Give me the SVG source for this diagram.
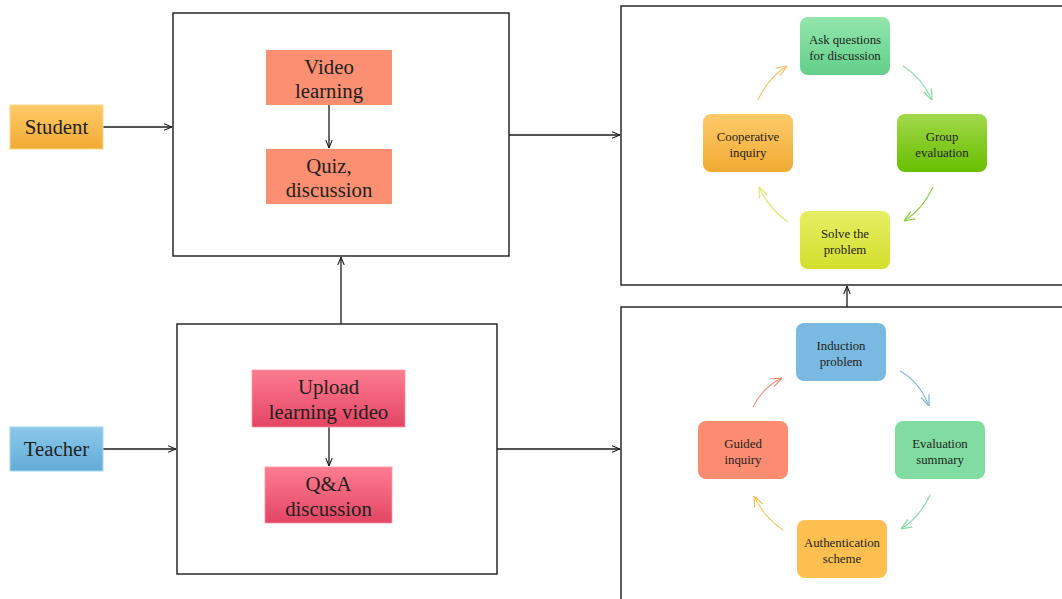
<svg xmlns="http://www.w3.org/2000/svg" width="1062" height="599" viewBox="0 0 1062 599">
<defs>
<style>
.frame{fill:#fff;stroke:#1a1a1a;stroke-width:1.4}
.big{font-family:"Liberation Serif",serif;font-size:20.8px;fill:#231f20;text-anchor:middle}
.sm{font-family:"Liberation Serif",serif;font-size:12.8px;fill:#231f20;text-anchor:middle}
.conn{stroke:#1a1a1a;stroke-width:1.3;fill:none}
.cyc{stroke-width:1.1;fill:none}
</style>
<linearGradient id="gOr" x1="0" y1="0" x2="0" y2="1"><stop offset="0" stop-color="#ffca6a"/><stop offset="1" stop-color="#f0aa33"/></linearGradient>
<linearGradient id="gBl" x1="0" y1="0" x2="0" y2="1"><stop offset="0" stop-color="#8cc8ea"/><stop offset="1" stop-color="#62acd9"/></linearGradient>
<linearGradient id="gPk" x1="0" y1="0" x2="0" y2="1"><stop offset="0" stop-color="#fe7c91"/><stop offset="1" stop-color="#e34563"/></linearGradient>
<linearGradient id="gG1" x1="0" y1="0" x2="0" y2="1"><stop offset="0" stop-color="#93e6ad"/><stop offset="1" stop-color="#62cf8a"/></linearGradient>
<linearGradient id="gG2" x1="0" y1="0" x2="0" y2="1"><stop offset="0" stop-color="#a2d84a"/><stop offset="1" stop-color="#67bf00"/></linearGradient>
<linearGradient id="gY" x1="0" y1="0" x2="0" y2="1"><stop offset="0" stop-color="#e8ee66"/><stop offset="1" stop-color="#d3df2c"/></linearGradient>
<marker id="ah" viewBox="0 0 10 10" refX="10" refY="5" markerWidth="8" markerHeight="8" markerUnits="userSpaceOnUse" orient="auto"><path d="M0,1 L10,5 L0,9" fill="none" stroke="#1a1a1a" stroke-width="1.3"/></marker>
<marker id="ahOr" viewBox="0 0 10 10" refX="10" refY="5" markerWidth="11" markerHeight="11" markerUnits="userSpaceOnUse" orient="auto"><path d="M0,1 L10,5 L0,9" fill="none" stroke="#fcc064" stroke-width="1.1"/></marker>
<marker id="ahG1" viewBox="0 0 10 10" refX="10" refY="5" markerWidth="11" markerHeight="11" markerUnits="userSpaceOnUse" orient="auto"><path d="M0,1 L10,5 L0,9" fill="none" stroke="#86dfa6" stroke-width="1.1"/></marker>
<marker id="ahG2" viewBox="0 0 10 10" refX="10" refY="5" markerWidth="11" markerHeight="11" markerUnits="userSpaceOnUse" orient="auto"><path d="M0,1 L10,5 L0,9" fill="none" stroke="#8ccc3c" stroke-width="1.1"/></marker>
<marker id="ahY" viewBox="0 0 10 10" refX="10" refY="5" markerWidth="11" markerHeight="11" markerUnits="userSpaceOnUse" orient="auto"><path d="M0,1 L10,5 L0,9" fill="none" stroke="#dfe870" stroke-width="1.1"/></marker>
<marker id="ahSa" viewBox="0 0 10 10" refX="10" refY="5" markerWidth="11" markerHeight="11" markerUnits="userSpaceOnUse" orient="auto"><path d="M0,1 L10,5 L0,9" fill="none" stroke="#fb8c72" stroke-width="1.1"/></marker>
<marker id="ahBl" viewBox="0 0 10 10" refX="10" refY="5" markerWidth="11" markerHeight="11" markerUnits="userSpaceOnUse" orient="auto"><path d="M0,1 L10,5 L0,9" fill="none" stroke="#7ab8e0" stroke-width="1.1"/></marker>
<marker id="ahG3" viewBox="0 0 10 10" refX="10" refY="5" markerWidth="11" markerHeight="11" markerUnits="userSpaceOnUse" orient="auto"><path d="M0,1 L10,5 L0,9" fill="none" stroke="#80dca0" stroke-width="1.1"/></marker>
<marker id="ahO2" viewBox="0 0 10 10" refX="10" refY="5" markerWidth="11" markerHeight="11" markerUnits="userSpaceOnUse" orient="auto"><path d="M0,1 L10,5 L0,9" fill="none" stroke="#fdc050" stroke-width="1.1"/></marker>
</defs>
<rect width="1062" height="599" fill="#fff"/>

<g id="frames">
<rect id="topLeftBox" class="frame" x="173" y="13" width="336" height="243"/>
<rect id="bottomLeftBox" class="frame" x="177" y="324" width="320" height="250"/>
<rect id="topRightBox" class="frame" x="621" y="6" width="460" height="279"/>
<rect id="bottomRightBox" class="frame" x="621" y="307" width="460" height="310"/>
</g>

<g id="connectors">
<line class="conn" x1="103" y1="127" x2="172" y2="127" marker-end="url(#ah)"/>
<line class="conn" x1="103" y1="449" x2="176" y2="449" marker-end="url(#ah)"/>
<line class="conn" x1="329" y1="105" x2="329" y2="148" marker-end="url(#ah)"/>
<line class="conn" x1="329" y1="427" x2="329" y2="466" marker-end="url(#ah)"/>
<line class="conn" x1="341" y1="324" x2="341" y2="257" marker-end="url(#ah)"/>
<line class="conn" x1="509" y1="135" x2="620" y2="135" marker-end="url(#ah)"/>
<line class="conn" x1="497" y1="449" x2="620" y2="449" marker-end="url(#ah)"/>
<line class="conn" x1="847" y1="307" x2="847" y2="286" marker-end="url(#ah)"/>
<path class="cyc" d="M758,100 Q768,78 787,66" stroke="#fcc064" marker-end="url(#ahOr)"/>
<path class="cyc" d="M903,66 Q922,78 932,100" stroke="#86dfa6" marker-end="url(#ahG1)"/>
<path class="cyc" d="M933,187 Q923,209 904,221" stroke="#8ccc3c" marker-end="url(#ahG2)"/>
<path class="cyc" d="M788,222 Q769,209 759,187" stroke="#dfe870" marker-end="url(#ahY)"/>
<path class="cyc" d="M753,407 Q763,387 782,378" stroke="#fb8c72" marker-end="url(#ahSa)"/>
<path class="cyc" d="M900,371 Q919,381 929,406" stroke="#7ab8e0" marker-end="url(#ahBl)"/>
<path class="cyc" d="M930,495 Q920,517 901,529" stroke="#80dca0" marker-end="url(#ahG3)"/>
<path class="cyc" d="M783,530 Q764,517 754,496" stroke="#fdc050" marker-end="url(#ahO2)"/>
</g>

<g id="student"><rect x="10" y="105" width="93" height="44" fill="url(#gOr)" stroke="#ffd88a" stroke-width="1"/><text class="big" x="56.5" y="134">Student</text></g>
<g id="teacher"><rect x="10" y="427" width="93" height="44" fill="url(#gBl)" stroke="#a6d6f0" stroke-width="1"/><text class="big" x="56.5" y="456">Teacher</text></g>

<g id="videoLearning"><rect x="266" y="50" width="126" height="55" fill="#fc8f71"/><text class="big" x="329" y="74">Video</text><text class="big" x="329" y="98">learning</text></g>
<g id="quizDiscussion"><rect x="266" y="149" width="126" height="55" fill="#fc8f71"/><text class="big" x="329" y="173">Quiz,</text><text class="big" x="329" y="197">discussion</text></g>
<g id="uploadVideo"><rect x="252" y="370" width="153" height="57" fill="url(#gPk)" stroke="#ff9aab" stroke-width="0.8"/><text class="big" x="328.5" y="394">Upload</text><text class="big" x="328.5" y="419">learning video</text></g>
<g id="qaDiscussion"><rect x="265" y="467" width="127" height="56" fill="url(#gPk)" stroke="#ff9aab" stroke-width="0.8"/><text class="big" x="328.5" y="491">Q&amp;A</text><text class="big" x="328.5" y="516">discussion</text></g>

<g id="askQuestions"><rect x="800" y="17" width="90" height="58" rx="8" fill="url(#gG1)"/><text class="sm" x="845" y="44">Ask questions</text><text class="sm" x="845" y="60">for discussion</text></g>
<g id="groupEvaluation"><rect x="897" y="114" width="90" height="58" rx="8" fill="url(#gG2)"/><text class="sm" x="942" y="141">Group</text><text class="sm" x="942" y="157">evaluation</text></g>
<g id="solveProblem"><rect x="800" y="211" width="90" height="58" rx="8" fill="url(#gY)"/><text class="sm" x="845" y="238">Solve the</text><text class="sm" x="845" y="254">problem</text></g>
<g id="cooperativeInquiry"><rect x="703" y="114" width="90" height="58" rx="8" fill="url(#gOr)"/><text class="sm" x="748" y="141">Cooperative</text><text class="sm" x="748" y="157">inquiry</text></g>

<g id="inductionProblem"><rect x="796" y="323" width="90" height="58" rx="8" fill="#7ab9e1"/><text class="sm" x="841" y="350">Induction</text><text class="sm" x="841" y="366">problem</text></g>
<g id="evaluationSummary"><rect x="895" y="421" width="90" height="58" rx="8" fill="#80dca0"/><text class="sm" x="940" y="448">Evaluation</text><text class="sm" x="940" y="464">summary</text></g>
<g id="authenticationScheme"><rect x="797" y="520" width="90" height="58" rx="8" fill="#fdc050"/><text class="sm" x="842" y="547">Authentication</text><text class="sm" x="842" y="563">scheme</text></g>
<g id="guidedInquiry"><rect x="698" y="421" width="90" height="58" rx="8" fill="#fb8c72"/><text class="sm" x="743" y="448">Guided</text><text class="sm" x="743" y="464">inquiry</text></g>
</svg>
